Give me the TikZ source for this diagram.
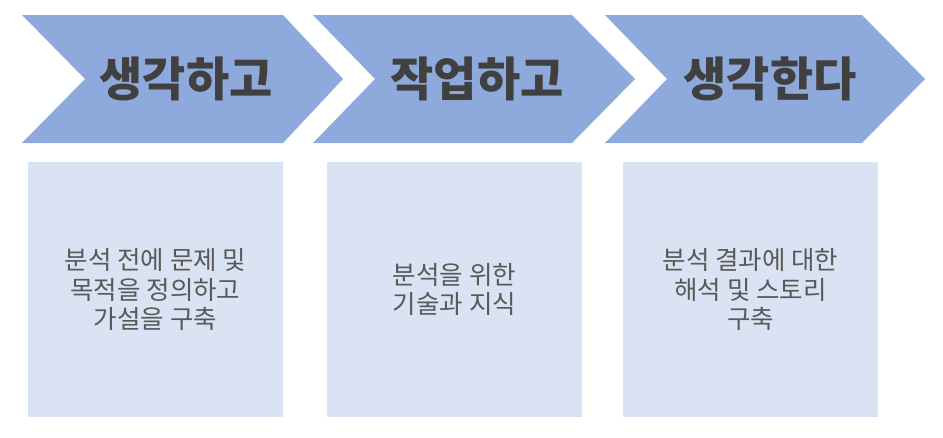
\documentclass[tikz,border=0pt]{standalone}
\usepackage{fontspec}
\setmainfont{Noto Sans CJK KR}
\usepackage{xcolor}
\usepackage{tikz}
\usetikzlibrary{positioning}

\definecolor{chevblue}{HTML}{8EA9DB}
\definecolor{boxblue}{HTML}{DAE3F3}
\definecolor{headgray}{HTML}{404040}
\definecolor{bodygray}{HTML}{595959}

\begin{document}
\begin{tikzpicture}[
  x=1pt, y=-1pt,
  chev/.style={fill=chevblue},
  head/.style={font=\fontsize{47}{50}\selectfont\bfseries, text=headgray},
  box/.style={fill=boxblue, minimum width=255pt, minimum height=255pt,
              inner sep=0pt, align=center, text=bodygray,
              font=\fontsize{25.5}{29.5}\selectfont}
]
  \useasboundingbox (0,0) rectangle (943,437);

  % chevrons
  \fill[chev] (22,15) -- (283,15) -- (343,79) -- (283,143) -- (22,143) -- (85,79) -- cycle;
  \fill[chev] (313,15) -- (572,15) -- (635,79) -- (572,143) -- (313,143) -- (375,79) -- cycle;
  \fill[chev] (605,15) -- (862,15) -- (925,79) -- (862,143) -- (605,143) -- (667,79) -- cycle;

  \node[head] (think)   at (186,79) {생각하고};
  \node[head] (work)    at (477,79) {작업하고};
  \node[head] (rethink) at (770,79) {생각한다};

  % boxes below
  \node[box] (before) at (155.5,289.5) {분석 전에 문제 및\\목적을 정의하고\\가설을 구축};
  \node[box] (tools)  at (454.5,289.5) {분석을 위한\\기술과 지식};
  \node[box] (after)  at (750.5,289.5) {분석 결과에 대한\\해석 및 스토리\\구축};
\end{tikzpicture}
\end{document}
